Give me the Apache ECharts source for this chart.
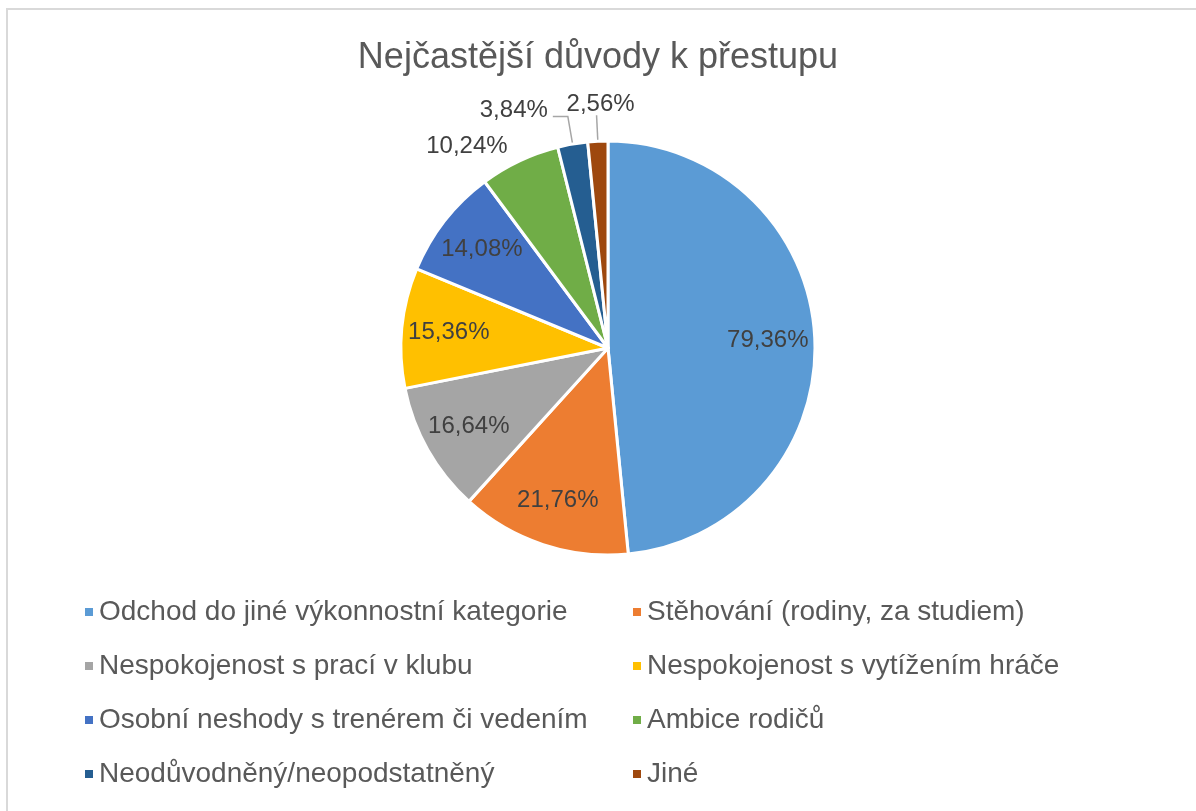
<!DOCTYPE html>
<html>
<head>
<meta charset="utf-8">
<script src="https://cdn.jsdelivr.net/npm/echarts@6/dist/echarts.min.js"></script>
<style>
  html, body { margin: 0; padding: 0; background: #fff; }
  #chart { width: 1196px; height: 811px; }
</style>
</head>
<body>
<div id="chart"></div>
<script>
const categories = [
  'Odchod do jiné výkonnostní kategorie',
  'Stěhování (rodiny, za studiem)',
  'Nespokojenost s prací v klubu',
  'Nespokojenost s vytížením hráče',
  'Osobní neshody s trenérem či vedením',
  'Ambice rodičů',
  'Neodůvodněný/neopodstatněný',
  'Jiné'
]
const values = [79.36, 21.76, 16.64, 15.36, 14.08, 10.24, 3.84, 2.56]
const colors = ['#5B9BD5', '#ED7D31', '#A5A5A5', '#FFC000', '#4472C4', '#70AD47', '#255E91', '#9E480E']

// slices whose label sits outside the pie (Excel put them there)
const outsideLabels = {
  5: { length: 16, length2: 0, line: false },
  6: { length: 28, length2: 15, line: true },
  7: { length: 26, length2: 0, line: true }
}

const fmt = p => p.value.toFixed(2).replace('.', ',') + '%'
const labelText = { color: '#404040', fontSize: 24, fontFamily: 'Liberation Sans, Arial, sans-serif' }
const legendText = { color: '#595959', fontSize: 28, lineHeight: 30, fontFamily: 'Liberation Sans, Arial, sans-serif' }

const mainData = categories.map((name, i) => {
  const o = outsideLabels[i]
  return {
    name,
    value: values[i],
    itemStyle: { color: colors[i] },
    label: o ? { show: true, position: 'outside' } : { show: false },
    labelLine: o ? { show: o.line, length: o.length, length2: o.length2 } : { show: false }
  }
})

const innerLabelData = categories.map((name, i) => ({
  name,
  value: values[i],
  label: { show: !outsideLabels[i] }
}))

const chart = echarts.init(document.getElementById('chart'))
chart.setOption({
  animation: false,
  color: colors,
  title: {
    text: 'Nejčastější důvody k přestupu',
    left: 'center',
    top: 35,
    textStyle: { color: '#595959', fontSize: 36, fontWeight: 'normal', fontFamily: 'Liberation Sans, Arial, sans-serif' }
  },
  graphic: [{
    type: 'rect',
    shape: { x: 7, y: 9, width: 1300, height: 900 },
    style: { fill: 'none', stroke: '#D9D9D9', lineWidth: 2 },
    silent: true
  }],
  legend: [
    {
      orient: 'vertical', left: 78, top: 592, itemGap: 24,
      icon: 'rect', itemWidth: 10, itemHeight: 10,
      data: categories.filter((c, i) => i % 2 === 0),
      textStyle: legendText
    },
    {
      orient: 'vertical', left: 626, top: 592, itemGap: 24,
      icon: 'rect', itemWidth: 10, itemHeight: 10,
      data: categories.filter((c, i) => i % 2 === 1),
      textStyle: legendText
    }
  ],
  series: [
    {
      type: 'pie',
      center: [608, 348],
      radius: [0, 207],
      startAngle: 90,
      clockwise: true,
      avoidLabelOverlap: false,
      itemStyle: { borderColor: '#fff', borderWidth: 3 },
      label: Object.assign({ formatter: fmt }, labelText),
      labelLine: { lineStyle: { color: '#A6A6A6', width: 1.5 } },
      labelLayout: function (p) {
        if (p.dataIndex === 6) return { dy: -6 }
        // the last slice's label stands centred on top of its straight leader
        if (p.dataIndex !== 7 || !p.labelLinePoints) return {}
        const pts = p.labelLinePoints
        const end = pts[pts.length - 1]
        return { x: end[0] + 4, y: end[1] + 1, align: 'center', verticalAlign: 'bottom', labelLinePoints: pts }
      },
      emphasis: { disabled: true },
      data: mainData
    },
    {
      // invisible ring only used to push the inside labels further out
      type: 'pie',
      center: [608, 348],
      radius: [107, 207],
      startAngle: 90,
      clockwise: true,
      silent: true,
      legendHoverLink: false,
      itemStyle: { color: 'rgba(0,0,0,0)', borderWidth: 0 },
      label: Object.assign({ position: 'inside', formatter: fmt }, labelText),
      labelLine: { show: false },
      emphasis: { disabled: true },
      data: innerLabelData
    }
  ]
})
</script>
</body>
</html>
